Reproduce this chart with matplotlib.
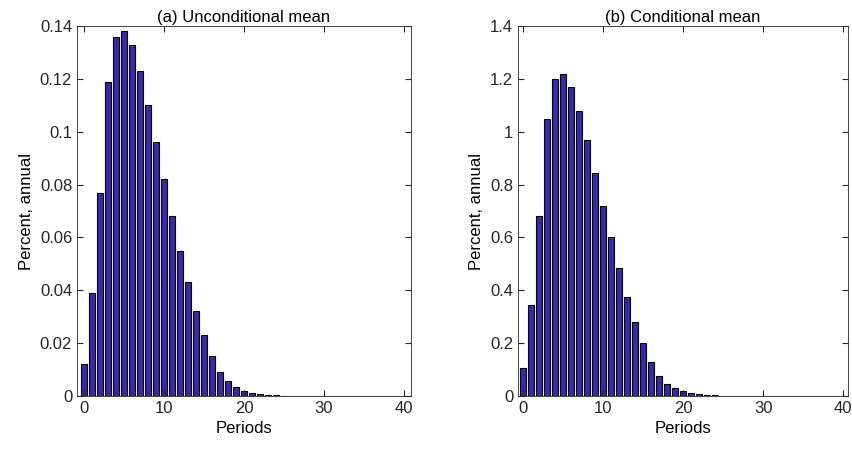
import numpy as np
import matplotlib.pyplot as plt

periods = np.arange(41)
uncond = [0.012, 0.039, 0.077, 0.119, 0.136, 0.138, 0.133, 0.123, 0.110, 0.096,
          0.082, 0.068, 0.055, 0.043, 0.032, 0.023, 0.015, 0.009, 0.0055, 0.0035,
          0.002, 0.0012, 0.0007, 0.0004, 0.00025, 0.00015, 0.0001, 0.00006, 0.00004, 0.00003,
          0.00002, 0.00001, 0.00001, 0.00001, 0.00001, 0.00001, 0.00001, 0.00001, 0.00001, 0.00001, 0.00001]
cond = [0.105, 0.345, 0.68, 1.05, 1.20, 1.22, 1.17, 1.08, 0.97, 0.845,
        0.72, 0.60, 0.485, 0.375, 0.28, 0.20, 0.13, 0.075, 0.045, 0.03,
        0.018, 0.011, 0.006, 0.004, 0.0025, 0.0015, 0.001, 0.0006, 0.0004, 0.0003,
        0.0002, 0.0001, 0.0001, 0.0001, 0.0001, 0.0001, 0.0001, 0.0001, 0.0001, 0.0001, 0.0001]

plt.rcParams['font.family'] = ['Liberation Sans', 'DejaVu Sans']
fig = plt.figure(figsize=(8.52, 4.49), dpi=100)
ax1 = fig.add_axes([77/852, 53/449, 334/852, 370/449])
ax2 = fig.add_axes([518/852, 53/449, 330/852, 370/449])

panels = [(ax1, uncond, '(a) Unconditional mean', 0.14, 0.02, (-0.9, 40.9)),
          (ax2, cond, '(b) Conditional mean', 1.4, 0.2, (-0.6, 40.6))]
for ax, vals, title, ymax, step, xl in panels:
    ax.bar(periods, vals, width=0.8, color='#3a28a8', edgecolor='black', linewidth=0.8)
    ax.set_xlim(*xl)
    ax.set_ylim(0, ymax)
    ax.set_xticks([0, 10, 20, 30, 40])
    ax.set_yticks(np.round(np.arange(0, ymax + step / 2, step), 3))
    ax.yaxis.set_major_formatter(plt.FuncFormatter(lambda v, p: ('%g' % v)))
    ax.tick_params(direction='in', top=True, right=True, labelsize=12, length=4, colors='#262626')
    for s in ax.spines.values():
        s.set_color('#262626')
        s.set_linewidth(0.6)
    ax.set_title(title, fontsize=12, pad=3)
    ax.set_xlabel('Periods', fontsize=12)
    ax.set_ylabel('Percent, annual', fontsize=12)

fig.savefig('out.png', dpi=100)
